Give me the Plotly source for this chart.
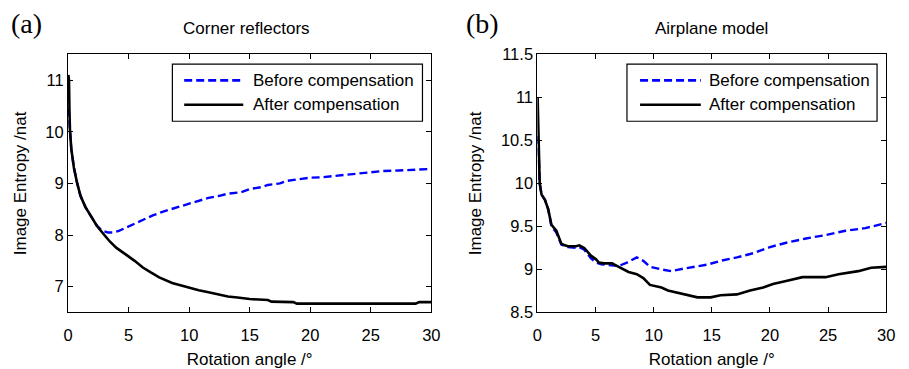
import plotly.graph_objects as go

# ---------------- data ----------------
# (a) Corner reflectors
xa_before = [0.03, 0.1, 0.16, 0.27, 0.49, 0.76, 1.03, 1.44, 1.84, 2.38, 2.65, 3.0, 3.3, 3.74, 4.2,
             5.1, 5.6, 6.45, 7.0, 7.8, 8.9, 9.97, 11.0, 11.6, 12.5, 13.2, 14.3, 15.0, 16.0, 16.5,
             17.5, 18.1, 19.0, 20.0, 21.0, 21.9, 22.5, 23.3, 24.0, 25.0, 26.0, 27.3, 28.5, 29.5, 30.0]
ya_before = [10.45, 10.3, 10.04, 9.67, 9.30, 9.00, 8.76, 8.54, 8.39, 8.18, 8.12, 8.07, 8.05, 8.05, 8.08,
             8.18, 8.24, 8.33, 8.38, 8.45, 8.53, 8.61, 8.68, 8.72, 8.76, 8.80, 8.83, 8.89, 8.93, 8.97,
             9.00, 9.05, 9.08, 9.11, 9.12, 9.14, 9.16, 9.18, 9.19, 9.22, 9.24, 9.25, 9.26, 9.28, 9.28]

xa_after = [0.03, 0.08, 0.12, 0.16, 0.27, 0.49, 0.76, 1.03, 1.44, 1.84, 2.38, 2.93, 3.47, 4.0, 4.55,
            4.96, 5.5, 6.18, 6.8, 7.53, 8.6, 9.97, 10.8, 11.6, 12.7, 13.2, 14.0, 15.0, 16.5, 16.8,
            18.6, 18.9, 28.7, 29.0, 30.0]
ya_after = [11.1, 11.0, 10.4, 10.04, 9.67, 9.30, 9.00, 8.76, 8.54, 8.39, 8.18, 8.02, 7.87, 7.75, 7.65,
            7.59, 7.50, 7.37, 7.28, 7.18, 7.07, 6.98, 6.93, 6.89, 6.84, 6.81, 6.79, 6.76, 6.74, 6.71,
            6.70, 6.67, 6.67, 6.70, 6.70]

# (b) Airplane model
xb_before = [0.02, 0.08, 0.2, 0.36, 0.65, 0.93, 1.21, 1.63, 2.06, 2.37, 2.62, 3.33, 3.61, 4.03, 4.6,
             5.02, 5.5, 6.15, 7.0, 7.7, 8.55, 9.11, 9.68, 10.67, 11.5, 12.6, 13.77, 14.6, 15.75,
             17.16, 18.6, 20.0, 21.4, 23.1, 24.8, 26.5, 28.2, 30.0]
yb_before = [10.55, 10.5, 10.0, 9.87, 9.81, 9.70, 9.50, 9.43, 9.29, 9.27, 9.26, 9.25, 9.26, 9.23, 9.13,
             9.08, 9.06, 9.05, 9.04, 9.08, 9.14, 9.10, 9.03, 9.00, 8.98, 9.01, 9.04, 9.055, 9.10,
             9.14, 9.19, 9.26, 9.31, 9.36, 9.40, 9.45, 9.48, 9.54]

xb_after = [0.02, 0.08, 0.15, 0.2, 0.36, 0.65, 0.93, 1.21, 1.63, 2.06, 2.37, 2.62, 3.33, 3.61, 4.03,
            4.6, 5.02, 5.3, 5.72, 6.43, 6.71, 7.28, 7.84, 8.55, 9.11, 9.68, 10.67, 11.23, 12.07,
            13.2, 13.77, 14.9, 15.75, 17.16, 18.29, 19.42, 20.26, 21.39, 22.8, 24.78, 25.9, 27.6,
            28.7, 30.0]
yb_after = [11.0, 10.55, 10.5, 10.0, 9.87, 9.81, 9.70, 9.52, 9.45, 9.30, 9.28, 9.27, 9.27, 9.28, 9.25,
            9.16, 9.12, 9.08, 9.07, 9.07, 9.05, 9.01, 8.97, 8.945, 8.90, 8.82, 8.79, 8.755, 8.73,
            8.70, 8.675, 8.675, 8.70, 8.71, 8.755, 8.79, 8.83, 8.865, 8.91, 8.91, 8.945, 8.98,
            9.02, 9.03]

x_ticks = [0, 5, 10, 15, 20, 25, 30]
ya_ticks = [7, 8, 9, 10, 11]
yb_ticks = [8.5, 9, 9.5, 10, 10.5, 11, 11.5]
yb_ticktext = ["8.5", "9", "9.5", "10", "10.5", "11", "11.5"]

titles = ["Corner reflectors", "Airplane model"]
panel_labels = ["(a)", "(b)"]
series_names = ["Before compensation", "After compensation"]

# ---------------- layout helpers ----------------
W, H = 909, 369
def px(x):
    return x / W
def py(y):
    return 1 - y / H

FONT = "Liberation Sans, Arial, sans-serif"
BLUE = "#0000ff"
DASH = "8px,4px"
TXT = 17

fig = go.Figure()

fig.add_trace(go.Scatter(x=xa_before, y=ya_before, mode="lines", name=series_names[0],
                         line=dict(color=BLUE, width=2.4, dash=DASH), xaxis="x", yaxis="y",
                         showlegend=False))
fig.add_trace(go.Scatter(x=xa_after, y=ya_after, mode="lines", name=series_names[1],
                         line=dict(color="black", width=2.6), xaxis="x", yaxis="y",
                         showlegend=False))
fig.add_trace(go.Scatter(x=xb_before, y=yb_before, mode="lines", name=series_names[0],
                         line=dict(color=BLUE, width=2.4, dash=DASH), xaxis="x2", yaxis="y2",
                         showlegend=False))
fig.add_trace(go.Scatter(x=xb_after, y=yb_after, mode="lines", name=series_names[1],
                         line=dict(color="black", width=2.6), xaxis="x2", yaxis="y2",
                         showlegend=False))

axis_common = dict(showline=True, linecolor="black", linewidth=1, mirror="ticks",
                   ticks="inside", ticklen=5, tickcolor="black", tickwidth=1,
                   showgrid=False, zeroline=False,
                   tickfont=dict(family=FONT, size=16.5, color="black"))

ydom = [py(319), py(47.7)]
xtitle = dict(text="Rotation angle /°", font=dict(family=FONT, size=TXT), standoff=9)
ytitle = dict(text="Image Entropy /nat", font=dict(family=FONT, size=TXT), standoff=14)
fig.update_layout(
    width=W, height=H, autosize=False,
    margin=dict(l=0, r=0, t=0, b=0),
    paper_bgcolor="white", plot_bgcolor="white",
    font=dict(family=FONT, color="black"),
    xaxis=dict(domain=[px(64), px(433)], range=[0, 30], tickvals=x_ticks, anchor="y",
               ticklabelstandoff=8, title=xtitle, **axis_common),
    yaxis=dict(domain=ydom, range=[6.5, 11.5], tickvals=ya_ticks, anchor="x",
               title=ytitle, **axis_common),
    xaxis2=dict(domain=[px(540.7), px(895)], range=[0, 30], tickvals=x_ticks, anchor="y2",
                ticklabelstandoff=8, title=xtitle, **axis_common),
    yaxis2=dict(domain=ydom, range=[8.5, 11.5], tickvals=yb_ticks, ticktext=yb_ticktext, anchor="x2",
                title=ytitle, **axis_common),
)

# titles and panel labels
for cx, t in zip([245, 717.5], titles):
    fig.add_annotation(x=px(cx), y=py(21), xref="paper", yref="paper", text=t, showarrow=False,
                       xanchor="center", yanchor="middle", font=dict(family=FONT, size=TXT, color="black"))
for lx, t in zip([4, 466], panel_labels):
    fig.add_annotation(x=px(lx), y=py(15), xref="paper", yref="paper", text=t, showarrow=False,
                       xanchor="left", yanchor="middle",
                       font=dict(family="Liberation Serif, Times New Roman, serif", size=28, color="black"))

# legends (box, line samples, labels)
for (bx0, bx1, lx0, lx1, tx) in [(170, 424, 182, 242, 250), (631.7, 885.7, 645, 706.7, 712.5)]:
    fig.add_shape(type="rect", xref="paper", yref="paper", x0=px(bx0), x1=px(bx1), y0=py(118), y1=py(58),
                  line=dict(color="black", width=1.2), fillcolor="white", layer="above")
    for ry, color, dash, name in [(75, BLUE, DASH, series_names[0]), (100.7, "black", "solid", series_names[1])]:
        fig.add_shape(type="line", xref="paper", yref="paper", x0=px(lx0), x1=px(lx1), y0=py(ry), y1=py(ry),
                      line=dict(color=color, width=2.6, dash=dash), layer="above")
        fig.add_annotation(x=px(tx), y=py(ry), xref="paper", yref="paper", text=name, showarrow=False,
                           xanchor="left", yanchor="middle", font=dict(family=FONT, size=TXT, color="black"))

fig.write_html("out.html")
